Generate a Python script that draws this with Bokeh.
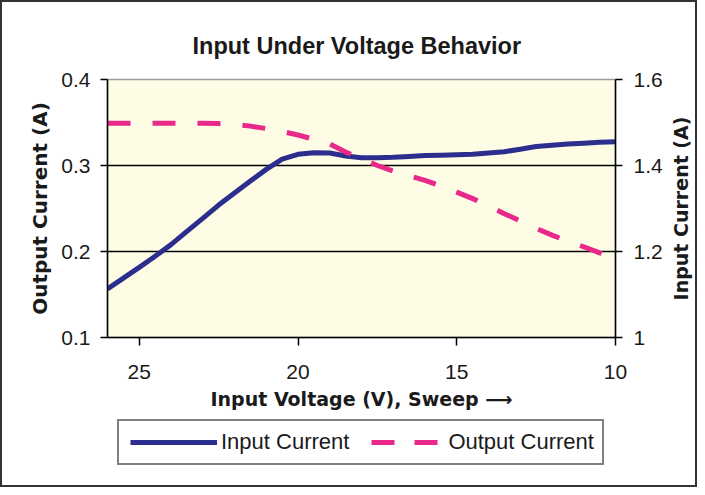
import math
from bokeh.plotting import figure
from bokeh.layouts import column, row
from bokeh.models import Range1d, LinearAxis, FixedTicker, Legend, LegendItem
from bokeh.embed import file_html
from bokeh.resources import INLINE

# ---------------- data ----------------
voltage = [26, 25.5, 25, 24.5, 24, 23.5, 23, 22.5, 22, 21.5, 21, 20.5, 20, 19.5,
           19, 18.5, 18, 17.5, 17, 16.5, 16, 15.5, 15, 14.5, 14, 13.5, 13, 12.5,
           12, 11.5, 11, 10.5, 10]
input_current = [1.113, 1.138, 1.163, 1.189, 1.216, 1.247, 1.277, 1.308, 1.336,
                 1.364, 1.391, 1.415, 1.426, 1.4295, 1.429, 1.422, 1.418, 1.418,
                 1.419, 1.421, 1.423, 1.424, 1.425, 1.426, 1.429, 1.432, 1.438,
                 1.444, 1.447, 1.450, 1.452, 1.454, 1.455]
output_current = [0.349, 0.349, 0.349, 0.349, 0.349, 0.349, 0.349, 0.3488, 0.3478,
                  0.3458, 0.3430, 0.3395, 0.3355, 0.3305, 0.3250, 0.3156, 0.3080,
                  0.3000, 0.2935, 0.2880, 0.2828, 0.2760, 0.2690, 0.2615, 0.2530,
                  0.2440, 0.2355, 0.2270, 0.2190, 0.2120, 0.2055, 0.1985, 0.1920]

x_ticks = [25, 20, 15, 10]
x_tick_labels = ["25", "20", "15", "10"]
left_ticks = [0.1, 0.2, 0.3, 0.4]
left_tick_labels = ["0.1", "0.2", "0.3", "0.4"]
right_ticks = [1.0, 1.2, 1.4, 1.6]
right_tick_labels = ["1", "1.2", "1.4", "1.6"]
grid_ticks = [0.2, 0.3]

title_text = "Input Under Voltage Behavior"
x_label = "Input Voltage (V), Sweep \u27f6"
y_left_label = "Output Current (A)"
y_right_label = "Input Current (A)"
series_names = ["Input Current", "Output Current"]

BLUE = "#2B2E8C"
PINK = "#E8298A"
TEXT = "#1a1a1a"
FRAME = "2px solid #333333"

# ---------------- main chart ----------------
p = figure(width=665, height=415,
           x_range=Range1d(26, 10), y_range=Range1d(0.1, 0.4),
           output_backend="svg", toolbar_location=None,
           min_border_left=105, min_border_right=52,
           min_border_top=77, min_border_bottom=80,
           background_fill_color="#FFFCE6", border_fill_color="white",
           outline_line_color="#9a9a9a", outline_line_width=1.5)
p.styles = {"border-top": FRAME, "border-left": FRAME}

p.title.text = title_text
p.title.align = "left"
p.title.offset = 85
p.title.standoff = 42
p.title.text_font = "Liberation Sans"
p.title.text_font_style = "bold"
p.title.text_font_size = "23.5px"
p.title.text_color = TEXT

p.extra_y_ranges = {"right": Range1d(1.0, 1.6)}
right_axis = LinearAxis(y_range_name="right")
p.add_layout(right_axis, "right")

p.xgrid.visible = False
p.ygrid.ticker = FixedTicker(ticks=grid_ticks)
p.ygrid.grid_line_color = "black"
p.ygrid.grid_line_width = 1.3


def style_axis(ax, label_size="19px"):
    ax.axis_line_color = "black"
    ax.axis_line_width = 1.5
    ax.major_tick_line_color = "black"
    ax.major_tick_line_width = 1.5
    ax.major_tick_in = 0
    ax.major_tick_out = 7
    ax.minor_tick_line_color = None
    ax.major_label_text_font = "Liberation Sans"
    ax.major_label_text_font_size = "21px"
    ax.major_label_text_color = TEXT
    ax.major_label_standoff = 10
    ax.axis_label_text_font = "DejaVu Sans"
    ax.axis_label_text_font_style = "bold"
    ax.axis_label_text_font_size = label_size
    ax.axis_label_text_color = TEXT


for ax in [p.xaxis[0], p.yaxis[0], right_axis]:
    style_axis(ax)

xa = p.xaxis[0]
xa.ticker = FixedTicker(ticks=x_ticks)
xa.major_label_overrides = dict(zip(x_ticks, x_tick_labels))
xa.major_tick_out = 8
xa.major_label_standoff = 19
xa.axis_label = x_label
xa.axis_label_standoff = 6

ya = p.yaxis[0]
ya.ticker = FixedTicker(ticks=left_ticks)
ya.major_label_overrides = dict(zip(left_ticks, left_tick_labels))
ya.axis_label = y_left_label
ya.axis_label_text_font_size = "20px"
ya.axis_label_standoff = 6

right_axis.ticker = FixedTicker(ticks=right_ticks)
right_axis.major_label_overrides = dict(zip(right_ticks, right_tick_labels))
right_axis.major_label_standoff = 11

p.line(voltage, input_current, y_range_name="right",
       line_color=BLUE, line_width=5, line_join="round")
p.line(voltage, output_current,
       line_color=PINK, line_width=5, line_dash="23 22", line_join="round")

# ---------------- strip on the right carrying the right-hand axis title ----------------
r = figure(width=32, height=415, x_range=Range1d(0, 1), y_range=Range1d(1.0, 1.6),
           output_backend="svg", toolbar_location=None,
           x_axis_location=None, y_axis_location="left",
           min_border_left=26, min_border_right=0,
           min_border_top=77, min_border_bottom=80,
           outline_line_color=None,
           background_fill_color="white", border_fill_color="white")
r.styles = {"border-top": FRAME, "border-right": FRAME}
r.xgrid.visible = False
r.ygrid.visible = False
ra = r.yaxis[0]
style_axis(ra)
ra.ticker = FixedTicker(ticks=[])
ra.axis_line_color = None
ra.major_tick_line_color = None
ra.major_tick_out = 0
ra.major_label_standoff = 0
ra.axis_label = y_right_label
ra.axis_label_standoff = 0

# ---------------- key (legend strip under the chart) ----------------
leg = figure(width=697, height=72, x_range=Range1d(0, 1), y_range=Range1d(0, 1),
             output_backend="svg", toolbar_location=None,
             x_axis_location=None, y_axis_location=None,
             min_border_left=105, min_border_right=82,
             min_border_top=0, min_border_bottom=0,
             outline_line_color=None,
             background_fill_color="white", border_fill_color="white")
leg.styles = {"border-bottom": FRAME, "border-left": FRAME, "border-right": FRAME}
leg.xgrid.visible = False
leg.ygrid.visible = False
# same series, drawn off-range here: they only supply the key swatches
key_blue = leg.line(voltage, input_current, line_color=BLUE, line_width=5,
                    line_dash="87 3", line_dash_offset=87)
key_pink = leg.line(voltage, output_current, line_color=PINK, line_width=5,
                    line_dash="23 20", line_dash_offset=26)

legend = Legend(items=[LegendItem(label=series_names[0], renderers=[key_blue]),
                       LegendItem(label=series_names[1], renderers=[key_pink])],
                location=(10, 22), orientation="horizontal",
                glyph_width=90, glyph_height=20, label_standoff=4,
                spacing=5, padding=8, margin=0,
                border_line_color="black", border_line_width=2,
                background_fill_color="white", background_fill_alpha=1.0,
                label_text_font="Liberation Sans", label_text_font_size="22px",
                label_text_color=TEXT)
leg.add_layout(legend)

layout = column(row(p, r, spacing=0), leg, spacing=0)
open("out.html", "w").write(file_html(layout, INLINE))
